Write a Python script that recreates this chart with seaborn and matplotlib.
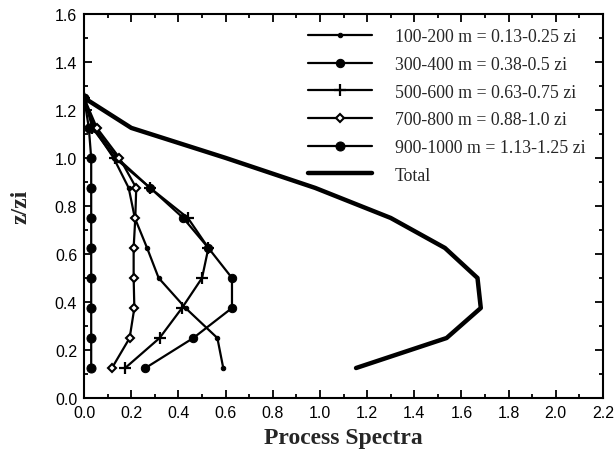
import matplotlib
matplotlib.use("Agg")
import matplotlib.pyplot as plt
from matplotlib.ticker import MultipleLocator, FormatStrFormatter
import numpy as np
import pandas as pd
import seaborn as sns

# Normalised height levels (z/zi)
z_levels = [0.125, 0.25, 0.375, 0.5, 0.625, 0.75, 0.875, 1.0, 1.125, 1.25]

# Process spectra per wavelength band at each level
band_100_200 = [0.59, 0.565, 0.43, 0.316, 0.267, 0.215, 0.189, 0.125, 0.04, 0.0]
band_300_400 = [0.26, 0.463, 0.627, 0.627, 0.527, 0.42, 0.28, 0.14, 0.045, 0.0]
band_500_600 = [0.174, 0.32, 0.415, 0.50, 0.527, 0.44, 0.28, 0.13, 0.035, 0.0]
band_700_800 = [0.118, 0.193, 0.213, 0.21, 0.21, 0.217, 0.221, 0.15, 0.054, 0.0]
band_900_1000 = [0.03, 0.03, 0.03, 0.03, 0.03, 0.03, 0.03, 0.03, 0.02, 0.0]
total = [1.153, 1.537, 1.682, 1.668, 1.53, 1.30, 0.98, 0.60, 0.20, 0.0]

labels = [
    "100-200 m = 0.13-0.25 zi",
    "300-400 m = 0.38-0.5 zi",
    "500-600 m = 0.63-0.75 zi",
    "700-800 m = 0.88-1.0 zi",
    "900-1000 m = 1.13-1.25 zi",
    "Total",
]
series = [band_100_200, band_300_400, band_500_600, band_700_800, band_900_1000, total]

styles = [
    dict(marker="o", markersize=3.2, markerfacecolor="black", lw=1.6),
    dict(marker="o", markersize=6.0, markerfacecolor="black", lw=1.6),
    dict(marker="+", markersize=8, markeredgewidth=1.6, lw=1.6),
    dict(marker="D", markersize=4.5, markerfacecolor="white", markeredgewidth=1.5, lw=1.6),
    dict(marker="o", markersize=6.5, markerfacecolor="black", lw=1.6),
    dict(marker=None, lw=3.2),
]

sns.set_style("ticks")
plt.rcParams["font.family"] = ["Liberation Sans", "DejaVu Sans"]

frames = []
for lab, vals in zip(labels, series):
    frames.append(pd.DataFrame({"spectra": vals, "z": z_levels, "band": lab}))
df = pd.concat(frames, ignore_index=True)

fig = plt.figure(figsize=(6.14, 4.64), dpi=100)
ax = fig.add_axes([0.137, 0.140, 0.845, 0.828])

for lab, st in zip(labels, styles):
    sub = df[df["band"] == lab]
    sns.lineplot(data=sub, x="spectra", y="z", sort=False, estimator=None,
                 color="black", markeredgecolor="black", label=lab, ax=ax, **st)

ax.set_xlim(0, 2.2)
ax.set_ylim(0, 1.6)
ax.xaxis.set_major_locator(MultipleLocator(0.2))
ax.xaxis.set_minor_locator(MultipleLocator(0.1))
ax.yaxis.set_major_locator(MultipleLocator(0.2))
ax.yaxis.set_minor_locator(MultipleLocator(0.1))
ax.xaxis.set_major_formatter(FormatStrFormatter("%.1f"))
ax.yaxis.set_major_formatter(FormatStrFormatter("%.1f"))
ax.tick_params(which="both", direction="in", top=True, right=True,
               color="black", width=1.3, labelsize=11.5, labelcolor="black")
ax.tick_params(which="major", length=6, pad=5)
ax.tick_params(which="minor", length=3)
for sp in ax.spines.values():
    sp.set_visible(True)
    sp.set_color("black")
    sp.set_linewidth(1.5)

ax.set_xlabel("Process Spectra", fontsize=17, fontweight="bold",
              family=["Liberation Serif", "DejaVu Serif"], labelpad=5)
ax.set_ylabel("z/zi", fontsize=17, fontweight="bold",
              family=["Liberation Serif", "DejaVu Serif"], labelpad=17)

leg = ax.legend(loc="upper right", bbox_to_anchor=(0.99, 0.995), frameon=False,
                handlelength=3.6, handletextpad=1.3, labelspacing=0.6,
                borderaxespad=0.3,
                prop={"family": ["Liberation Serif", "DejaVu Serif"], "size": 12.8})

fig.savefig("out.png", dpi=100)
